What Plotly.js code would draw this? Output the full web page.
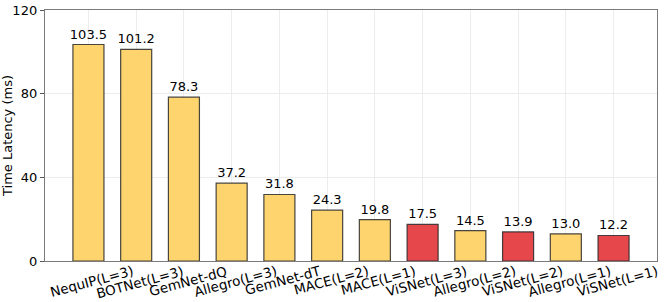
<!DOCTYPE html>
<html>
<head>
<meta charset="utf-8">
<script src="https://cdn.plot.ly/plotly-3.0.1.min.js"></script>
<style>html,body{margin:0;padding:0;background:#fff;}#chart{width:664px;height:302px;}</style>
</head>
<body>
<div id="chart"></div>
<script>
const categories = ["NequIP(L=3)", "BOTNet(L=3)", "GemNet-dQ", "Allegro(L=3)", "GemNet-dT", "MACE(L=2)", "MACE(L=1)", "ViSNet(L=3)", "Allegro(L=2)", "ViSNet(L=2)", "Allegro(L=1)", "ViSNet(L=1)"];
const latency = [103.5, 101.2, 78.3, 37.2, 31.8, 24.3, 19.8, 17.5, 14.5, 13.9, 13.0, 12.2];
const isViSNet = [false, false, false, false, false, false, false, true, false, true, false, true];
const yTicks = [0, 40, 80, 120];

const yellow = "#FED46E";
const red = "#E5474A";

const trace = {
  type: "bar",
  x: categories,
  y: latency,
  width: 0.65,
  marker: {
    color: isViSNet.map(v => v ? red : yellow),
    line: {color: "rgba(40,40,40,0.85)", width: 1.2}
  },
  text: latency.map(v => v.toFixed(1)),
  textposition: "outside",
  constraintext: "none",
  textfont: {family: "DejaVu Sans", size: 13, color: "#000"},
  cliponaxis: false,
  hoverinfo: "none"
};

const annotations = categories.map(c => ({
  x: c, xref: "x", y: 0, yref: "paper",
  text: c, showarrow: false, textangle: -15,
  xanchor: "center", yanchor: "top", xshift: 4, yshift: 1,
  font: {family: "DejaVu Sans", size: 13.5, color: "#000"}
}));

const layout = {
  width: 664, height: 302,
  margin: {l: 45, r: 7, t: 10, b: 41},
  paper_bgcolor: "#fff", plot_bgcolor: "#fff",
  font: {family: "DejaVu Sans", size: 12.5, color: "#000"},
  showlegend: false,
  bargap: 0.35,
  xaxis: {
    type: "category",
    range: [-0.91, 11.91],
    showticklabels: false,
    showgrid: true, gridcolor: "#ececec", gridwidth: 1,
    showline: true, linecolor: "#7a7a7a", linewidth: 1.2, mirror: true,
    ticks: "", zeroline: false
  },
  yaxis: {
    range: [0, 120],
    tickvals: yTicks,
    ticktext: yTicks.map(String),
    ticks: "outside", ticklen: 4, tickcolor: "#555",
    tickfont: {family: "DejaVu Sans", size: 13, color: "#000"},
    showgrid: true, gridcolor: "#ececec", gridwidth: 1,
    showline: true, linecolor: "#7a7a7a", linewidth: 1.2, mirror: true,
    zeroline: false,
    title: {text: "Time Latency (ms)", font: {family: "DejaVu Sans", size: 13, color: "#000"}, standoff: 4}
  },
  annotations: annotations
};

Plotly.newPlot("chart", [trace], layout, {staticPlot: true, displayModeBar: false});
</script>
</body>
</html>
